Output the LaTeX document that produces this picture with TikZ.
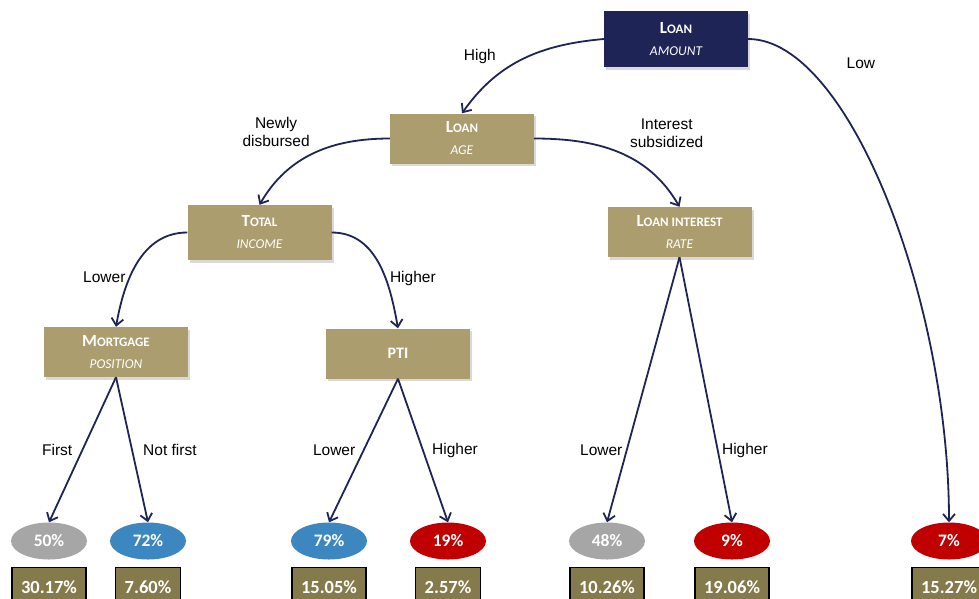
\documentclass[tikz,border=0pt]{standalone}
\usepackage{fontspec}
\setmainfont{Carlito}
\newfontfamily\lblfont{Liberation Sans}
\usetikzlibrary{arrows.meta,positioning,shapes.geometric,shadows}
\definecolor{navy}{HTML}{1F2456}
\definecolor{tan}{HTML}{AB9D6E}
\definecolor{shareclr}{HTML}{857A4C}
\definecolor{leafgray}{HTML}{A6A6A6}
\definecolor{leafblue}{HTML}{3D87C1}
\definecolor{leafred}{HTML}{C00000}
\newcommand\bigsc[2]{{\fontsize{17}{22}\selectfont#1}{\fontsize{13}{22}\selectfont#2}}
\newcommand\subln[1]{{\mdseries\itshape\fontsize{13.5}{22}\selectfont#1}}

\begin{document}
\begin{tikzpicture}[
    x=1pt, y=1pt,
    split/.style={rectangle, fill=tan, text=white, font=\bfseries\fontsize{13}{22}\selectfont, minimum width=144pt, minimum height=50pt, inner sep=0pt, align=center, drop shadow={shadow xshift=2pt, shadow yshift=-2.5pt, opacity=.3}},
    leaf/.style={ellipse, minimum width=76pt, minimum height=37pt, inner sep=0pt, text=white, font=\fontsize{17.5}{20}\selectfont\bfseries},
    share/.style={draw=black, line width=1.2pt, fill=shareclr, text=white, font=\fontsize{18.5}{21}\selectfont\bfseries, minimum height=40pt, inner xsep=9pt},
    line/.style={-{Straight Barb[length=7pt,width=12pt]}, line width=1.8pt, draw=navy},
    lbl/.style={font=\lblfont\fontsize{15.5}{18}\selectfont, text=black, align=center}
]
\useasboundingbox (0,0) rectangle (979,-598);

\node[split, fill=navy, minimum height=56pt] (amt) at (676,-39) {\bigsc{L}{OAN}\\\subln{AMOUNT}};
\node[split] (age) at (462,-138.5) {\bigsc{L}{OAN}\\\subln{AGE}};
\node[split, minimum height=55pt] (inc) at (259.5,-232.5) {\bigsc{T}{OTAL}\\\subln{INCOME}};
\node[split] (rate) at (679.5,-232) {\bigsc{L}{OAN INTEREST}\\\subln{RATE}};
\node[split] (mort) at (116,-352) {\bigsc{M}{ORTGAGE}\\\subln{POSITION}};
\node[split, font=\bfseries\fontsize{16}{18}\selectfont] (pti) at (398,-353.5) {PTI};

\node[leaf, fill=leafgray] (p50) at (49,-541) {50\%};
\node[leaf, fill=leafblue] (p72) at (148,-541) {72\%};
\node[leaf, fill=leafblue] (p79) at (329,-541) {79\%};
\node[leaf, fill=leafred] (p19) at (448,-541) {19\%};
\node[leaf, fill=leafgray] (p48) at (607,-541) {48\%};
\node[leaf, fill=leafred] (p9) at (732,-541) {9\%};
\node[leaf, fill=leafred] (p7) at (949,-541) {7\%};

\node[share, below=7pt of p50] (s50) {30.17\%};
\node[share, below=7pt of p72] (s72) {7.60\%};
\node[share, below=7pt of p79] (s79) {15.05\%};
\node[share, below=7pt of p19] (s19) {2.57\%};
\node[share, below=7pt of p48] (s48) {10.26\%};
\node[share, below=7pt of p9] (s9) {19.06\%};
\node[share, below=7pt of p7] (s7) {15.27\%};

\draw[line] (amt.west) to[out=185,in=55] node[lbl, pos=.65, above left, xshift=-3pt, yshift=3pt] (lhigh) {High} (age.north);
\draw[line] (amt.east) to[out=0,in=90,out distance=100pt,in distance=223pt] node[lbl, pos=.2, right=35pt, yshift=5pt] (llow) {Low} (p7.north);
\draw[line] (age.west) to[out=180,in=60] node[lbl, pos=.5, above left, yshift=2pt] (lnew) {Newly\\disbursed} (inc.north);
\draw[line] (age.east) to[out=0,in=120] node[lbl, pos=.55, above right, yshift=4pt] (lsub) {Interest\\subsidized} (rate.north);
\draw[line] (inc.west) to[out=180,in=80] node[lbl, pos=.63, left] (linclow) {Lower} (mort.north);
\draw[line] (inc.east) to[out=0,in=100] node[lbl, pos=.63, right] (linchigh) {Higher} (pti.north);
\draw[line] (mort.south) -- node[lbl, left=6pt] (lfirst) {First} (p50.north);
\draw[line] (mort.south) -- node[lbl, right=7pt] (lnotfirst) {Not first} (p72.north);
\draw[line] (pti.south) -- node[lbl, left=4pt] (lptilow) {Lower} (p79.north);
\draw[line] (pti.south) -- node[lbl, right=5pt] (lptihigh) {Higher} (p19.north);
\draw[line] (rate.south) -- node[lbl, pos=.73, left=0pt] (lratelow) {Lower} (p48.north);
\draw[line] (rate.south) -- node[lbl, pos=.73, right=0pt] (lratehigh) {Higher} (p9.north);
\end{tikzpicture}
\end{document}
